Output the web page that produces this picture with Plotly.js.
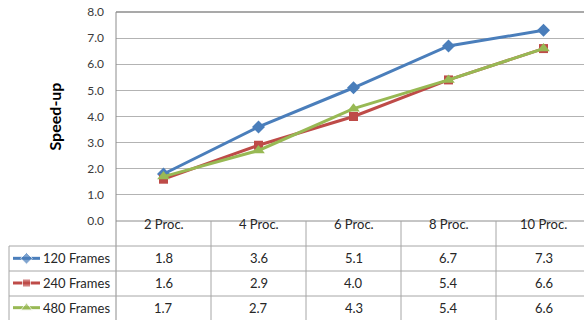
<!DOCTYPE html>
<html>
<head>
<meta charset="utf-8">
<script src="https://cdn.plot.ly/plotly-3.0.1.min.js"></script>
<style>
  html, body { margin: 0; padding: 0; overflow: hidden; background: #fff; }
  #chart { width: 600px; height: 320px; }
</style>
</head>
<body>
<div id="chart"></div>
<script>
// Speed-up per processor count, one series per frame count
const categories = ['2 Proc.', '4 Proc.', '6 Proc.', '8 Proc.', '10 Proc.'];
const seriesNames = ['120 Frames', '240 Frames', '480 Frames'];
const frames120 = [1.8, 3.6, 5.1, 6.7, 7.3];
const frames240 = [1.6, 2.9, 4.0, 5.4, 6.6];
const frames480 = [1.7, 2.7, 4.3, 5.4, 6.6];
const yTicks = [0, 1, 2, 3, 4, 5, 6, 7, 8];

const seriesValues = [frames120, frames240, frames480];
const colors = ['#4A7EBB', '#BE4B48', '#98B954'];
const symbols = ['diamond', 'square', 'triangle-up'];
const markerSizes = [10, 9, 11];

// figure geometry in pixels (paper spans the whole div)
const W = 600, H = 320;
const plotL = 116, plotR = 591, plotT = 12, plotB = 221;
const rowLines = [246, 271, 296];
const tableBottom = 321;
const keyL = 9;
const colEdges = [116, 211, 306, 401, 496];

const px = x => x / W;
const py = y => (H - y) / H;

const FONT = 'Lato, "Open Sans", sans-serif';
const gridColor = '#B3B3B3';
const borderColor = '#8C8C8C';
const tableLine = '#A6A6A6';
const textColor = '#262626';

const traces = [];
seriesValues.forEach((vals, i) => {
  traces.push({
    type: 'scatter', mode: 'lines+markers',
    x: categories, y: vals, name: seriesNames[i],
    xaxis: 'x', yaxis: 'y',
    line: { color: colors[i], width: 3 },
    marker: { symbol: symbols[i], size: markerSizes[i], color: colors[i] },
    showlegend: false, hoverinfo: 'skip'
  });
  // legend key inside the data table
  traces.push({
    type: 'scatter', mode: 'lines+markers',
    x: [0, 1, 2], y: [seriesNames[i], seriesNames[i], seriesNames[i]],
    xaxis: 'x2', yaxis: 'y2',
    line: { color: colors[i], width: 3 },
    marker: { symbol: symbols[i], size: [0, markerSizes[i] - 1, 0], color: colors[i] },
    showlegend: false, hoverinfo: 'skip'
  });
});

const shapes = [];
// plot area top border
shapes.push({ type: 'line', xref: 'paper', yref: 'paper', x0: px(plotL), x1: px(plotR), y0: py(plotT), y1: py(plotT), line: { color: borderColor, width: 1.5 } });
// left axis continues down through the table
shapes.push({ type: 'line', xref: 'paper', yref: 'paper', x0: px(plotL), x1: px(plotL), y0: py(plotT), y1: py(tableBottom), line: { color: borderColor, width: 1 } });
// table header top (category axis)
shapes.push({ type: 'line', xref: 'paper', yref: 'paper', x0: px(plotL), x1: px(plotR), y0: py(plotB), y1: py(plotB), line: { color: borderColor, width: 1 } });
// table row separators
rowLines.forEach(y => {
  shapes.push({ type: 'line', xref: 'paper', yref: 'paper', x0: px(keyL), x1: px(plotR), y0: py(y), y1: py(y), line: { color: tableLine, width: 1 } });
});
// legend column left edge
shapes.push({ type: 'line', xref: 'paper', yref: 'paper', x0: px(keyL), x1: px(keyL), y0: py(rowLines[0]), y1: py(tableBottom), line: { color: tableLine, width: 1 } });
// column separators
colEdges.slice(1).forEach(x => {
  shapes.push({ type: 'line', xref: 'paper', yref: 'paper', x0: px(x), x1: px(x), y0: py(plotB), y1: py(tableBottom), line: { color: tableLine, width: 1 } });
});

const annotations = [];
// y-axis title
annotations.push({
  text: '<b>Speed-up</b>', xref: 'paper', yref: 'paper', x: px(42), y: py(117),
  textangle: -90, showarrow: false, font: { family: FONT, size: 16, color: '#000' }
});
// header row
categories.forEach(c => {
  annotations.push({ text: c, xref: 'x', yref: 'paper', x: c, y: py(233.5), showarrow: false, font: { family: FONT, size: 13, color: textColor } });
});
// series names and values
seriesNames.forEach((name, i) => {
  annotations.push({ text: name, xref: 'paper', yref: 'y2', x: px(41), y: name, xanchor: 'left', showarrow: false, font: { family: FONT, size: 13, color: textColor } });
  categories.forEach((c, j) => {
    annotations.push({ text: seriesValues[i][j].toFixed(1), xref: 'x', yref: 'y2', x: c, y: name, showarrow: false, font: { family: FONT, size: 13, color: textColor } });
  });
});

const layout = {
  width: W, height: H,
  margin: { l: 0, r: 0, t: 0, b: 0, pad: 0 },
  paper_bgcolor: '#fff', plot_bgcolor: '#fff',
  showlegend: false,
  xaxis: {
    domain: [px(plotL), px(plotR)],
    type: 'category', categoryarray: categories, range: [-0.5, 4.5],
    showticklabels: false, showgrid: false, zeroline: false, showline: false, fixedrange: true
  },
  yaxis: {
    domain: [py(plotB), py(plotT)],
    range: [0, 8], tickvals: yTicks, tickformat: '.1f',
    showgrid: true, gridcolor: gridColor, gridwidth: 1,
    zeroline: false, showline: false, ticks: '',
    ticklabelstandoff: 11,
    tickfont: { family: FONT, size: 12, color: '#3A3A3A' }, fixedrange: true
  },
  xaxis2: {
    domain: [px(13), px(40)], range: [0, 2], anchor: 'y2',
    visible: false, fixedrange: true
  },
  yaxis2: {
    domain: [0, py(rowLines[0])], type: 'category', categoryarray: seriesNames,
    range: [2.5, -0.5], anchor: 'x2', visible: false, fixedrange: true
  },
  shapes: shapes,
  annotations: annotations
};

Plotly.newPlot('chart', traces, layout, { displayModeBar: false, staticPlot: true });
</script>
</body>
</html>
